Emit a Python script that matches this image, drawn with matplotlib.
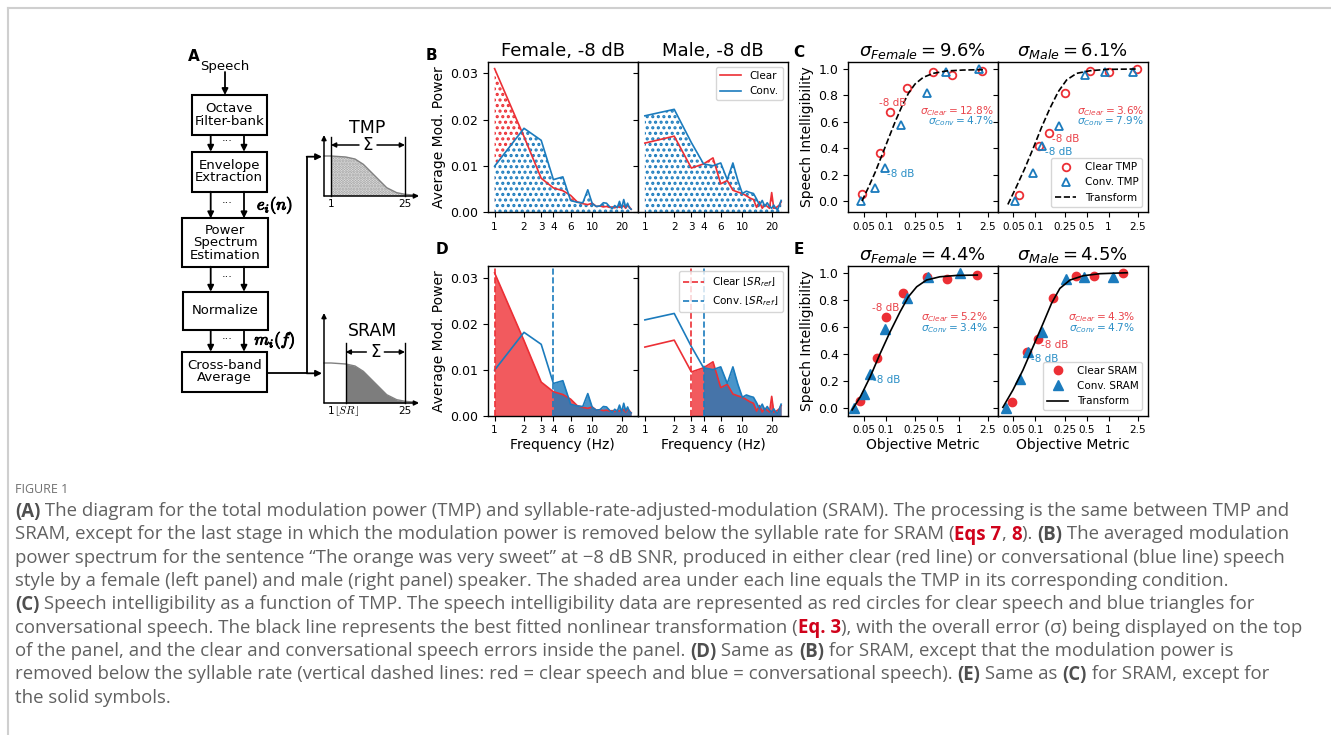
import numpy as np
import matplotlib
matplotlib.use("Agg")
import matplotlib.pyplot as plt
import matplotlib.patheffects as pe
from matplotlib.ticker import FixedLocator, FixedFormatter, NullLocator
from matplotlib.patches import Rectangle
from matplotlib.font_manager import FontProperties

plt.rcParams['font.family'] = ['DejaVu Sans']
plt.rcParams['axes.linewidth'] = 1.0
plt.rcParams['hatch.linewidth'] = 1.5

# ---------------- data ----------------
FREQ = np.arange(1, 26)
FREQ_TICKS = [1, 2, 3, 4, 6, 10, 20]
fem_clear = np.array([0.0310, 0.0163, 0.0073, 0.0052, 0.0046, 0.0036, 0.0022, 0.0018, 0.0016, 0.0019,
                      0.0012, 0.0013, 0.0011, 0.0012, 0.0010, 0.0011, 0.0009, 0.0012, 0.0010, 0.0011,
                      0.0013, 0.0008, 0.0014, 0.0011, 0.0006])
fem_conv = np.array([0.0099, 0.0181, 0.0155, 0.0070, 0.0076, 0.0025, 0.0021, 0.0020, 0.0048, 0.0018,
                     0.0012, 0.0013, 0.0020, 0.0019, 0.0012, 0.0007, 0.0014, 0.0009, 0.0023, 0.0008,
                     0.0027, 0.0010, 0.0019, 0.0009, 0.0006])
male_clear = np.array([0.0149, 0.0164, 0.0095, 0.0104, 0.0117, 0.0061, 0.0068, 0.0047, 0.0043, 0.0040,
                       0.0035, 0.0030, 0.0027, 0.0010, 0.0022, 0.0008, 0.0016, 0.0012, 0.0008, 0.0042,
                       0.0008, 0.0009, 0.0012, 0.0015, 0.0022])
male_conv = np.array([0.0208, 0.0222, 0.0150, 0.0104, 0.0100, 0.0106, 0.0070, 0.0106, 0.0068, 0.0040,
                      0.0045, 0.0042, 0.0040, 0.0028, 0.0015, 0.0025, 0.0012, 0.0020, 0.0012, 0.0008,
                      0.0015, 0.0008, 0.0005, 0.0015, 0.0025])
sr_clear = [1, 3]     # female, male (Hz)
sr_conv = [4, 4]

OBJ_TICKS = [0.05, 0.1, 0.25, 0.5, 1, 2.5]
OBJ_LABELS = ['0.05', '0.1', '0.25', '0.5', '1', '2.5']

# C: TMP
tmpF_clear_x = [0.047, 0.082, 0.115, 0.193, 0.447, 0.82, 2.10]
tmpF_clear_y = [0.058, 0.369, 0.677, 0.859, 0.975, 0.957, 0.987]
tmpF_conv_x = [0.045, 0.070, 0.096, 0.160, 0.362, 0.679, 1.89]
tmpF_conv_y = [0.0, 0.10, 0.255, 0.58, 0.82, 0.975, 1.0]
tmpF_fit_x = [0.047, 0.058, 0.0716, 0.0882, 0.1087, 0.134, 0.165, 0.204, 0.251, 0.326, 0.447, 0.679, 1.146, 2.15]
tmpF_fit_y = [0.0025, 0.109, 0.222, 0.348, 0.475, 0.601, 0.715, 0.816, 0.886, 0.937, 0.967, 0.985, 0.992, 0.995]

tmpM_clear_x = [0.0596, 0.112, 0.154, 0.253, 0.56, 1.02, 2.45]
tmpM_clear_y = [0.045, 0.417, 0.513, 0.821, 0.985, 0.98, 1.0]
tmpM_conv_x = [0.0531, 0.0929, 0.1236, 0.212, 0.472, 0.881, 2.16]
tmpM_conv_y = [0.0, 0.217, 0.417, 0.568, 0.957, 0.975, 0.975]
tmpM_fit_x = [0.042, 0.0548, 0.0713, 0.0929, 0.121, 0.1575, 0.205, 0.267, 0.366, 0.56, 0.949, 2.45]
tmpM_fit_y = [-0.023, 0.109, 0.247, 0.399, 0.558, 0.702, 0.828, 0.917, 0.967, 0.987, 0.997, 1.0]

# E: SRAM
sramF_clear_x = [0.0447, 0.0754, 0.101, 0.171, 0.362, 0.70, 1.80]
sramF_clear_y = [0.052, 0.365, 0.669, 0.852, 0.965, 0.951, 0.98]
sramF_conv_x = [0.0362, 0.0496, 0.0611, 0.0959, 0.197, 0.374, 1.03]
sramF_conv_y = [0.0, 0.099, 0.247, 0.58, 0.81, 0.965, 1.0]
sramF_fit_x = [0.0344, 0.0447, 0.0611, 0.0837, 0.1146, 0.157, 0.204, 0.265, 0.362, 0.551, 0.929, 1.80]
sramF_fit_y = [-0.017, 0.081, 0.23, 0.402, 0.563, 0.711, 0.822, 0.896, 0.946, 0.970, 0.980, 0.983]

sramM_clear_x = [0.0482, 0.0776, 0.1088, 0.175, 0.355, 0.636, 1.56]
sramM_clear_y = [0.044, 0.415, 0.509, 0.815, 0.973, 0.973, 1.0]
sramM_conv_x = [0.0399, 0.0622, 0.0793, 0.1236, 0.261, 0.462, 1.135]
sramM_conv_y = [0.0, 0.212, 0.415, 0.563, 0.953, 0.970, 0.970]
sramM_fit_x = [0.0359, 0.0493, 0.0676, 0.0929, 0.1275, 0.166, 0.216, 0.297, 0.453, 0.768, 1.79]
sramM_fit_y = [0.002, 0.131, 0.279, 0.452, 0.625, 0.773, 0.884, 0.946, 0.978, 0.993, 1.0]

sigma_overall_tmp = ['9.6', '6.1']
sigma_overall_sram = ['4.4', '4.5']
sigma_tmp = [('12.8', '4.7'), ('3.6', '7.9')]
sigma_sram = [('5.2', '3.4'), ('4.3', '4.7')]
MINUS8 = 2  # index of the -8 dB point

# schematic curve of the panel A mini plots (pixels: x, height above axis)
MINI_X = np.array([324, 331, 345.7, 355, 363.3, 370, 376.7, 386.7, 396.7, 405, 416.7])
MINI_DY = np.array([40, 40, 39, 37, 31.7, 25, 18.3, 8.3, 3.3, 1.7, 0.7])

CAPTION = [
    [("(A)", 'b'), (" The diagram for the total modulation power (TMP) and syllable-rate-adjusted-modulation (SRAM). The processing is the same between TMP and", 'n')],
    [("SRAM, except for the last stage in which the modulation power is removed below the syllable rate for SRAM (", 'n'), ("Eqs 7", 'r'), (", ", 'n'), ("8", 'r'), ("). ", 'n'), ("(B)", 'b'), (" The averaged modulation", 'n')],
    [("power spectrum for the sentence \u201cThe orange was very sweet\u201d at \u22128 dB SNR, produced in either clear (red line) or conversational (blue line) speech", 'n')],
    [("style by a female (left panel) and male (right panel) speaker. The shaded area under each line equals the TMP in its corresponding condition.", 'n')],
    [("(C)", 'b'), (" Speech intelligibility as a function of TMP. The speech intelligibility data are represented as red circles for clear speech and blue triangles for", 'n')],
    [("conversational speech. The black line represents the best fitted nonlinear transformation (", 'n'), ("Eq. 3", 'r'), ("), with the overall error (\u03c3) being displayed on the top", 'n')],
    [("of the panel, and the clear and conversational speech errors inside the panel. ", 'n'), ("(D)", 'b'), (" Same as ", 'n'), ("(B)", 'b'), (" for SRAM, except that the modulation power is", 'n')],
    [("removed below the syllable rate (vertical dashed lines: red = clear speech and blue = conversational speech). ", 'n'), ("(E)", 'b'), (" Same as ", 'n'), ("(C)", 'b'), (" for SRAM, except for", 'n')],
    [("the solid symbols.", 'n')],
]

RED = '#ec2f35'
BLUE = '#1b7bbd'
RED_TXT = '#e9434a'
BLUE_TXT = '#2b8fc6'
RED_FILL = '#f25a5e'

W, H = 1331, 735
fig = plt.figure(figsize=(W / 100, H / 100), dpi=100)


def px_rect(x0, y0, x1, y1):
    return [x0 / W, 1 - y1 / H, (x1 - x0) / W, (y1 - y0) / H]


# background axes in pixel coordinates: frame, diagram, caption
bg = fig.add_axes([0, 0, 1, 1])
bg.set_xlim(0, W)
bg.set_ylim(H, 0)
bg.axis('off')
bg.plot([8, 8], [8, H], color='#cfcfcf', lw=1.5)
bg.plot([8, W], [8, 8], color='#cfcfcf', lw=1.5)


def arrow(x0, y0, x1, y1, lw=1.3, ms=9):
    bg.annotate('', xy=(x1, y1), xytext=(x0, y0),
                arrowprops=dict(arrowstyle='-|>', color='k', lw=lw, mutation_scale=ms,
                                shrinkA=0, shrinkB=0))


# ---- panel A: block diagram ----
bg.text(194, 56, 'A', fontsize=11, fontweight='bold', ha='center', va='center')
bg.text(225, 66, 'Speech', fontsize=9.5, ha='center', va='center')
arrow(225, 72, 225, 95)
boxes = [(191.7, 95, 266.7, 135, "Octave\nFilter-bank"),
         (191.7, 151.7, 266.7, 191.7, "Envelope\nExtraction"),
         (181.7, 218.3, 268.3, 266.7, "Power\nSpectrum\nEstimation"),
         (182.5, 291.7, 268.3, 330, "Normalize"),
         (181.7, 351.7, 266.7, 391.7, "Cross-band\nAverage")]
for x0, y0, x1, y1, lab in boxes:
    bg.add_patch(Rectangle((x0, y0), x1 - x0, y1 - y0, facecolor='white', edgecolor='k', lw=1.5))
    bg.text((x0 + x1) / 2, (y0 + y1) / 2, lab, fontsize=9.5, ha='center', va='center', linespacing=0.95)
for (a, b) in [(135, 151.7), (191.7, 218.3), (266.7, 291.7), (330, 351.7)]:
    arrow(210.7, a, 210.7, b)
    arrow(244, a, 244, b)
    bg.text(227.3, (a + b) / 2 - 2, '\u00b7\u00b7\u00b7', fontsize=8, ha='center', va='center')
bold = [pe.withStroke(linewidth=0.7, foreground='k')]
bg.text(275, 205, r'$e_i(n)$', fontsize=12, math_fontfamily='cm', ha='center', va='center', path_effects=bold)
bg.text(275, 340, r'$m_i(f)$', fontsize=12, math_fontfamily='cm', ha='center', va='center', path_effects=bold)
bg.plot([266.7, 306.7], [373.3, 373.3], color='k', lw=1.3)
bg.plot([306.7, 306.7], [373.3, 156.7], color='k', lw=1.3)
arrow(306.7, 373.3, 322, 373.3)
arrow(306.7, 156.7, 322, 156.7)

# mini plots: (axis y, left edge of sum, fill, hatch, title, title y, sigma y, line top, y-axis top)
minis = [(196, 331, '#ececec', '......', 'TMP', 128, 145, 137, 135),
         (403, 345.7, '#7d7d7d', None, 'SRAM', 331, 352, 343, 313)]
for y0, x_lo, fc, hatch, title, ytit, ys, top, ytop in minis:
    arrow(324, y0, 324, ytop, lw=1.1, ms=7)
    arrow(324, y0, 419, y0, lw=1.1, ms=7)
    m = (MINI_X >= x_lo) & (MINI_X <= 405)
    bg.fill_between(MINI_X[m], y0 - MINI_DY[m], y0, facecolor=fc, hatch=hatch,
                    edgecolor='#9a9a9a', lw=0)
    bg.plot(MINI_X, y0 - MINI_DY, color='#808080', lw=1)
    bg.plot([x_lo, x_lo], [y0, top], color='k', lw=1)
    bg.plot([405, 405], [y0, top], color='k', lw=1)
    xc = (x_lo + 405) / 2
    bg.text(xc, ys, r'$\Sigma$', fontsize=12, ha='center', va='center')
    arrow(xc - 9, ys, x_lo, ys, lw=1.1, ms=7)
    arrow(xc + 9, ys, 405, ys, lw=1.1, ms=7)
    bg.text(xc - 1 if title == 'TMP' else 372.7, ytit, title, fontsize=12.5, ha='center', va='center')
    bg.text(405, y0 + 8, '25', fontsize=7.5, ha='center', va='center')
bg.text(331, 204, '1', fontsize=7.5, ha='center', va='center')
bg.text(331, 411, '1', fontsize=7.5, ha='center', va='center')
bg.text(347, 411, r'$\lfloor SR\rfloor$', fontsize=8, ha='center', va='center', math_fontfamily='cm')


# ---- helpers for plot panels ----
def freq_axes(ax, left):
    ax.set_xscale('log')
    ax.set_xlim(0.85, 29.4)
    ax.set_ylim(0, 0.0325)
    ax.xaxis.set_major_locator(FixedLocator(FREQ_TICKS))
    ax.xaxis.set_major_formatter(FixedFormatter([str(t) for t in FREQ_TICKS]))
    ax.xaxis.set_minor_locator(NullLocator())
    ax.set_yticks([0, 0.01, 0.02, 0.03])
    ax.tick_params(axis='y', labelsize=9, labelleft=left)
    ax.tick_params(axis='x', labelsize=7.5)


def obj_axes(ax, ylim, left):
    ax.set_xscale('log')
    ax.set_xlim(0.0305, 3.43)
    ax.set_ylim(*ylim)
    ax.xaxis.set_major_locator(FixedLocator(OBJ_TICKS))
    ax.xaxis.set_major_formatter(FixedFormatter(OBJ_LABELS))
    ax.xaxis.set_minor_locator(NullLocator())
    ax.set_yticks([0, 0.2, 0.4, 0.6, 0.8, 1.0])
    ax.tick_params(axis='y', labelsize=9, labelleft=left)
    ax.tick_params(axis='x', labelsize=7.5)


XB = [(487.7, 638), (638, 788)]
XC = [(848.3, 997.7), (997.7, 1147.7)]
TOP = (61.7, 212)
BOT = (266, 415.7)
spectra = [(fem_clear, fem_conv), (male_clear, male_conv)]
titles_B = ['Female, -8 dB', 'Male, -8 dB']

# ---- panel B ----
axB = []
for i, (clear, conv) in enumerate(spectra):
    ax = fig.add_axes(px_rect(XB[i][0], TOP[0], XB[i][1], TOP[1]), sharey=axB[0] if i else None)
    ax.fill_between(FREQ, 0, clear, facecolor='none', edgecolor=RED, hatch='...', lw=0, zorder=1)
    ax.fill_between(FREQ, 0, conv, facecolor='white', edgecolor=BLUE, hatch='...', lw=0, zorder=2)
    ax.plot(FREQ, clear, color=RED, lw=1.2, label='Clear', zorder=3)
    ax.plot(FREQ, conv, color=BLUE, lw=1.2, label='Conv.', zorder=3)
    freq_axes(ax, i == 0)
    ax.set_title(titles_B[i], fontsize=13, pad=4)
    axB.append(ax)
axB[0].set_ylabel('Average Mod. Power', fontsize=10, labelpad=3)
axB[1].legend(loc='upper right', fontsize=7.5)

# ---- panel D ----
axD = []
for i, (clear, conv) in enumerate(spectra):
    ax = fig.add_axes(px_rect(XB[i][0], BOT[0], XB[i][1], BOT[1]), sharey=axD[0] if i else None)
    m1 = FREQ >= sr_clear[i]
    m2 = FREQ >= sr_conv[i]
    ax.fill_between(FREQ[m1], 0, clear[m1], color=RED_FILL, lw=0, zorder=1)
    ax.fill_between(FREQ[m2], 0, conv[m2], color=BLUE, alpha=0.8, lw=0, zorder=2)
    ax.plot(FREQ, clear, color=RED, lw=1.2, zorder=3)
    ax.plot(FREQ, conv, color=BLUE, lw=1.2, zorder=3)
    ax.axvline(sr_clear[i], color=RED, ls='--', lw=1.2, zorder=4, label=r'Clear $\lfloor SR_{ref}\rfloor$')
    ax.axvline(sr_conv[i], color=BLUE, ls='--', lw=1.2, zorder=4, label=r'Conv. $\lfloor SR_{ref}\rfloor$')
    freq_axes(ax, i == 0)
    ax.set_xlabel('Frequency (Hz)', fontsize=10, labelpad=2)
    axD.append(ax)
axD[0].set_ylabel('Average Mod. Power', fontsize=10, labelpad=3)
axD[1].legend(loc='upper right', fontsize=7.5)

# ---- panels C and E ----
sets = {
    'C': [(tmpF_clear_x, tmpF_clear_y, tmpF_conv_x, tmpF_conv_y, tmpF_fit_x, tmpF_fit_y),
          (tmpM_clear_x, tmpM_clear_y, tmpM_conv_x, tmpM_conv_y, tmpM_fit_x, tmpM_fit_y)],
    'E': [(sramF_clear_x, sramF_clear_y, sramF_conv_x, sramF_conv_y, sramF_fit_x, sramF_fit_y),
          (sramM_clear_x, sramM_clear_y, sramM_conv_x, sramM_conv_y, sramM_fit_x, sramM_fit_y)],
}
who = ['Female', 'Male']
# -8 dB label offsets in pixels: (clear, conv) per panel
lab_off = {'C': [((2, 9), (2, -6)), ((3, -6), (3, -6))],
           'E': [((0, 9), (3, -6)), ((3, -6), (3, -7))]}
for key, (ylo, yhi), ylim, overall, inner, lbl in [
        ('C', (TOP[0], TOP[1]), (-0.08, 1.055), sigma_overall_tmp, sigma_tmp, 'TMP'),
        ('E', (BOT[0], BOT[1]), (-0.06, 1.05), sigma_overall_sram, sigma_sram, 'SRAM')]:
    first = None
    for i, (cx, cy, vx, vy, fx, fy) in enumerate(sets[key]):
        ax = fig.add_axes(px_rect(XC[i][0], ylo, XC[i][1], yhi), sharey=first)
        if key == 'C':
            ax.plot(cx, cy, 'o', mfc='none', mec=RED, ms=5.5, mew=1.3, label='Clear ' + lbl)
            ax.plot(vx, vy, '^', mfc='none', mec=BLUE, ms=5.5, mew=1.3, label='Conv. ' + lbl)
            ax.plot(fx, fy, color='k', ls='--', lw=1.2, label='Transform')
        else:
            ax.plot(cx, cy, 'o', color=RED, ms=6, label='Clear ' + lbl)
            ax.plot(vx, vy, '^', color=BLUE, ms=6.5, label='Conv. ' + lbl)
            ax.plot(fx, fy, color='k', lw=1.2, label='Transform')
        obj_axes(ax, ylim, i == 0)
        ax.set_title(r'$\sigma_{%s} = %s\%%$' % (who[i], overall[i]), fontsize=13, pad=4)
        (ocx, ocy), (ovx, ovy) = lab_off[key][i]
        ax.annotate('-8 dB', (cx[MINUS8], cy[MINUS8]), xytext=(ocx, ocy), textcoords='offset pixels',
                    ha='center' if ocy > 0 else 'left', va='center', fontsize=7.5, color=RED_TXT)
        ax.annotate('-8 dB', (vx[MINUS8], vy[MINUS8]), xytext=(ovx, ovy), textcoords='offset pixels',
                    ha='left', va='center', fontsize=7.5, color=BLUE_TXT)
        xr = 0.976 if key == 'C' else (0.93 if i == 0 else 0.915)
        y1 = 0.674 if key == 'C' else 0.656
        ax.text(xr, y1, r'$\sigma_{Clear} = %s\%%$' % inner[i][0], transform=ax.transAxes,
                ha='right', va='center', fontsize=7.6, color=RED_TXT)
        ax.text(xr, y1 - 0.072, r'$\sigma_{Conv} = %s\%%$' % inner[i][1], transform=ax.transAxes,
                ha='right', va='center', fontsize=7.6, color=BLUE_TXT)
        if i == 0:
            ax.set_ylabel('Speech Intelligibility', fontsize=10, labelpad=3)
            first = ax
        else:
            ax.legend(loc='lower right', fontsize=7.5)
        if key == 'E':
            ax.set_xlabel('Objective Metric', fontsize=10, labelpad=2)

# panel letters
for let, x, y in [('B', 431.5, 55.5), ('C', 798.5, 52.5), ('D', 442, 249), ('E', 798.5, 249)]:
    bg.text(x, y, let, fontsize=11, fontweight='bold', ha='center', va='center')

# ---- caption ----
rend = fig.canvas.get_renderer()


def cap_props(style, size):
    return FontProperties(family='Open Sans', size=size, weight='bold' if style in 'br' else 'normal')


def seg_w(s, fp):
    w1 = rend.get_text_width_height_descent('x' + s + 'x', fp, ismath=False)[0]
    w0 = rend.get_text_width_height_descent('xx', fp, ismath=False)[0]
    return w1 - w0


w_first = sum(seg_w(s, cap_props(st, 12)) for s, st in CAPTION[0])
cap_size = 12 * 1272 / w_first
bg.text(15, 488, 'FIGURE 1', fontsize=9, color='#707070', ha='left', va='center_baseline',
        family='Open Sans')
colors = {'n': '#616161', 'b': '#4f4f4f', 'r': '#d0021b'}
for k, line in enumerate(CAPTION):
    x = 15
    y = 509 + 23.35 * k
    for s, st in line:
        fp = cap_props(st, cap_size)
        bg.text(x, y, s, fontproperties=fp, color=colors[st], ha='left', va='center_baseline')
        x += seg_w(s, fp)

fig.savefig('out.png', dpi=100)
